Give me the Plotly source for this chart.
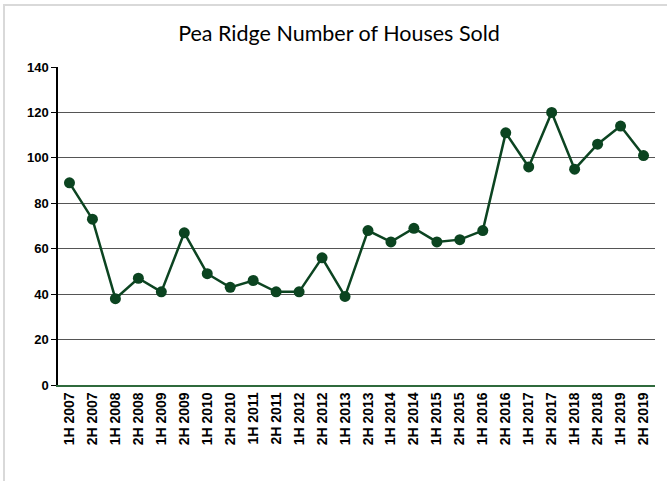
import plotly.graph_objects as go

periods = ["1H 2007", "2H 2007", "1H 2008", "2H 2008", "1H 2009", "2H 2009",
           "1H 2010", "2H 2010", "1H 2011", "2H 2011", "1H 2012", "2H 2012",
           "1H 2013", "2H 2013", "1H 2014", "2H 2014", "1H 2015", "2H 2015",
           "1H 2016", "2H 2016", "1H 2017", "2H 2017", "1H 2018", "2H 2018",
           "1H 2019", "2H 2019"]
houses_sold = [89, 73, 38, 47, 41, 67, 49, 43, 46, 41, 41, 56,
               39, 68, 63, 69, 63, 64, 68, 111, 96, 120, 95, 106,
               114, 101]
y_ticks = [0, 20, 40, 60, 80, 100, 120, 140]

W, H = 667, 481
ML, MR, MT, MB = 58, 12, 67, 96
pw, ph = W - ML - MR, H - MT - MB

fig = go.Figure(go.Scatter(
    x=periods, y=houses_sold, mode="lines+markers",
    line=dict(color="#0c4421", width=2.5),
    marker=dict(color="#0b4420", size=11),
    hoverinfo="x+y", cliponaxis=False,
))

fig.update_layout(
    width=W, height=H,
    margin=dict(l=ML, r=MR, t=MT, b=MB, pad=0),
    paper_bgcolor="white", plot_bgcolor="white",
    showlegend=False,
    title=dict(text="Pea Ridge Number of Houses Sold",
               font=dict(family="Lato, 'Open Sans', sans-serif", size=21.5, color="#000000"),
               x=339 / W, xanchor="center", y=1 - 33 / H, yanchor="middle"),
    xaxis=dict(
        type="category", tickangle=-90, automargin=False,
        range=[-0.5, len(periods) - 0.5],
        tickfont=dict(family="'Liberation Sans', Arial, sans-serif", size=14, color="#000000", weight="bold"),
        showgrid=False, showline=True, linecolor="#2f6a3c", linewidth=1.5,
        ticks="", ticklen=0, zeroline=False,
    ),
    yaxis=dict(
        range=[0, 140], tickvals=y_ticks, ticktext=[str(v) for v in y_ticks], automargin=False,
        tickfont=dict(family="'Liberation Sans', Arial, sans-serif", size=13, color="#000000", weight="bold"),
        showgrid=True, gridcolor="#555555", gridwidth=1,
        showline=True, linecolor="#000000", linewidth=1.5,
        ticks="outside", ticklen=5, tickcolor="#000000", zeroline=False,
    ),
    shapes=[dict(
        type="rect", xref="paper", yref="paper", layer="below",
        x0=(4 - ML) / pw, x1=(W + 20 - ML) / pw,
        y0=-(H + 20 - MT - ph) / ph, y1=(MT + ph - 5) / ph,
        line=dict(color="#d9d9d9", width=2), fillcolor="rgba(0,0,0,0)",
    )],
)

fig.write_html("out.html", config={"displayModeBar": False},
               post_script="document.body.style.margin='0';document.body.style.overflow='hidden';")
